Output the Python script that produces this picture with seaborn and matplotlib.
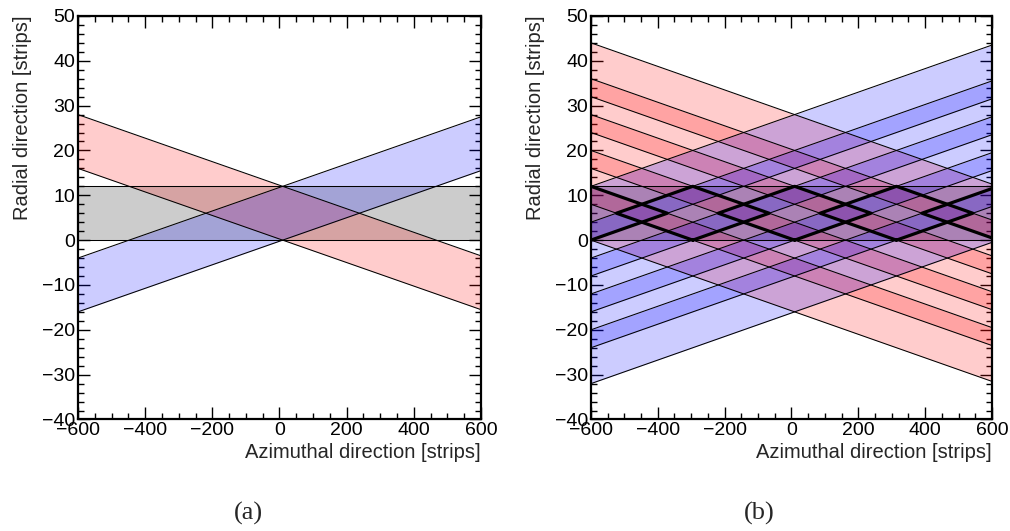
import matplotlib
matplotlib.use("Agg")
import matplotlib.pyplot as plt
from matplotlib.ticker import MultipleLocator
import numpy as np
import pandas as pd
import seaborn as sns

# strip geometry, y values of the lower strip edge at x = -600 and x = +600
x_range = [-600, 600]
strip_width = 12
layer = [0, 12]

red_a_left = [16]
red_a_right = [-15.5]
blue_a_left = [-16]
blue_a_right = [15.5]

red_b_left = [0, 8, 16, 24, 32]
red_b_right = [-31.5, -23.5, -15.5, -7.5, 0.5]
blue_b_left = [-32, -24, -16, -8, 0]
blue_b_right = [-0.5, 7.5, 15.5, 23.5, 31.5]


def intersect(l1, l2):
    '''
    crossing point of two lines given as (y at x=-600, y at x=600)
    '''
    s1 = (l1[1] - l1[0]) / (x_range[1] - x_range[0])
    s2 = (l2[1] - l2[0]) / (x_range[1] - x_range[0])
    dx = (l2[0] - l1[0]) / (s1 - s2)
    return x_range[0] + dx, l1[0] + s1 * dx


def edges_frame(lefts, rights, name):
    rows = []
    for i, (yl, yr) in enumerate(zip(lefts, rights)):
        for k, off in enumerate([0, strip_width]):
            rows.append({'x': x_range[0], 'y': yl + off, 'line': f'{name}{i}_{k}'})
            rows.append({'x': x_range[1], 'y': yr + off, 'line': f'{name}{i}_{k}'})
    return pd.DataFrame(rows)


def draw_panel(ax, reds, blues, outline=False):
    ax.fill_between(x_range, layer[0], layer[1], color='black', alpha=0.2, lw=0)
    for yl, yr in zip(*reds):
        ax.fill_between(x_range, [yl, yr], [yl + strip_width, yr + strip_width],
                        color='red', alpha=0.2, lw=0)
    for yl, yr in zip(*blues):
        ax.fill_between(x_range, [yl, yr], [yl + strip_width, yr + strip_width],
                        color='blue', alpha=0.2, lw=0)

    df = pd.concat([edges_frame(reds[0], reds[1], 'r'),
                    edges_frame(blues[0], blues[1], 'b')])
    sns.lineplot(data=df, x='x', y='y', units='line', estimator=None,
                 color='black', lw=0.75, ax=ax)
    for y in layer:
        ax.plot(x_range, [y, y], color='black', lw=0.75)

    if outline:
        n = len(reds[0])
        for i in range(n):
            j = n - 1 - i
            rl = (reds[0][i], reds[1][i])
            ru = (reds[0][i] + strip_width, reds[1][i] + strip_width)
            bl = (blues[0][j], blues[1][j])
            bu = (blues[0][j] + strip_width, blues[1][j] + strip_width)
            pts = [intersect(rl, bl), intersect(ru, bl), intersect(ru, bu),
                   intersect(rl, bu), intersect(rl, bl)]
            ax.plot([p[0] for p in pts], [p[1] for p in pts], color='black', lw=2.3)

    ax.set_xlim(-600, 600)
    ax.set_ylim(-40, 50)
    ax.xaxis.set_major_locator(MultipleLocator(200))
    ax.xaxis.set_minor_locator(MultipleLocator(50))
    ax.yaxis.set_major_locator(MultipleLocator(10))
    ax.yaxis.set_minor_locator(MultipleLocator(2))
    ax.tick_params(which='both', direction='in', top=True, right=True,
                   width=1, labelsize=14, pad=2, colors='black')
    ax.tick_params(which='major', length=8.5)
    ax.tick_params(which='minor', length=4)
    for sp in ax.spines.values():
        sp.set_linewidth(1.6)
        sp.set_color('black')
    ax.set_xlabel('Azimuthal direction [strips]', loc='right', fontsize=14.5, labelpad=3)
    ax.set_ylabel('Radial direction [strips]', loc='top', fontsize=14.5, labelpad=7)


sns.set_theme(style='ticks')
plt.rcParams['font.family'] = ['Liberation Sans', 'DejaVu Sans']

fig = plt.figure(figsize=(10.1, 5.31), dpi=100)
ax1 = fig.add_axes([0.0772, 0.210, 0.399, 0.760])
ax2 = fig.add_axes([0.5851, 0.210, 0.397, 0.760])

draw_panel(ax1, (red_a_left, red_a_right), (blue_a_left, blue_a_right))
draw_panel(ax2, (red_b_left, red_b_right), (blue_b_left, blue_b_right), outline=True)

fig.text(0.246, 0.012, '(a)', fontsize=19, ha='center', va='bottom',
         family=['Liberation Serif', 'DejaVu Serif'])
fig.text(0.752, 0.012, '(b)', fontsize=19, ha='center', va='bottom',
         family=['Liberation Serif', 'DejaVu Serif'])

fig.savefig('out.png', dpi=100)
